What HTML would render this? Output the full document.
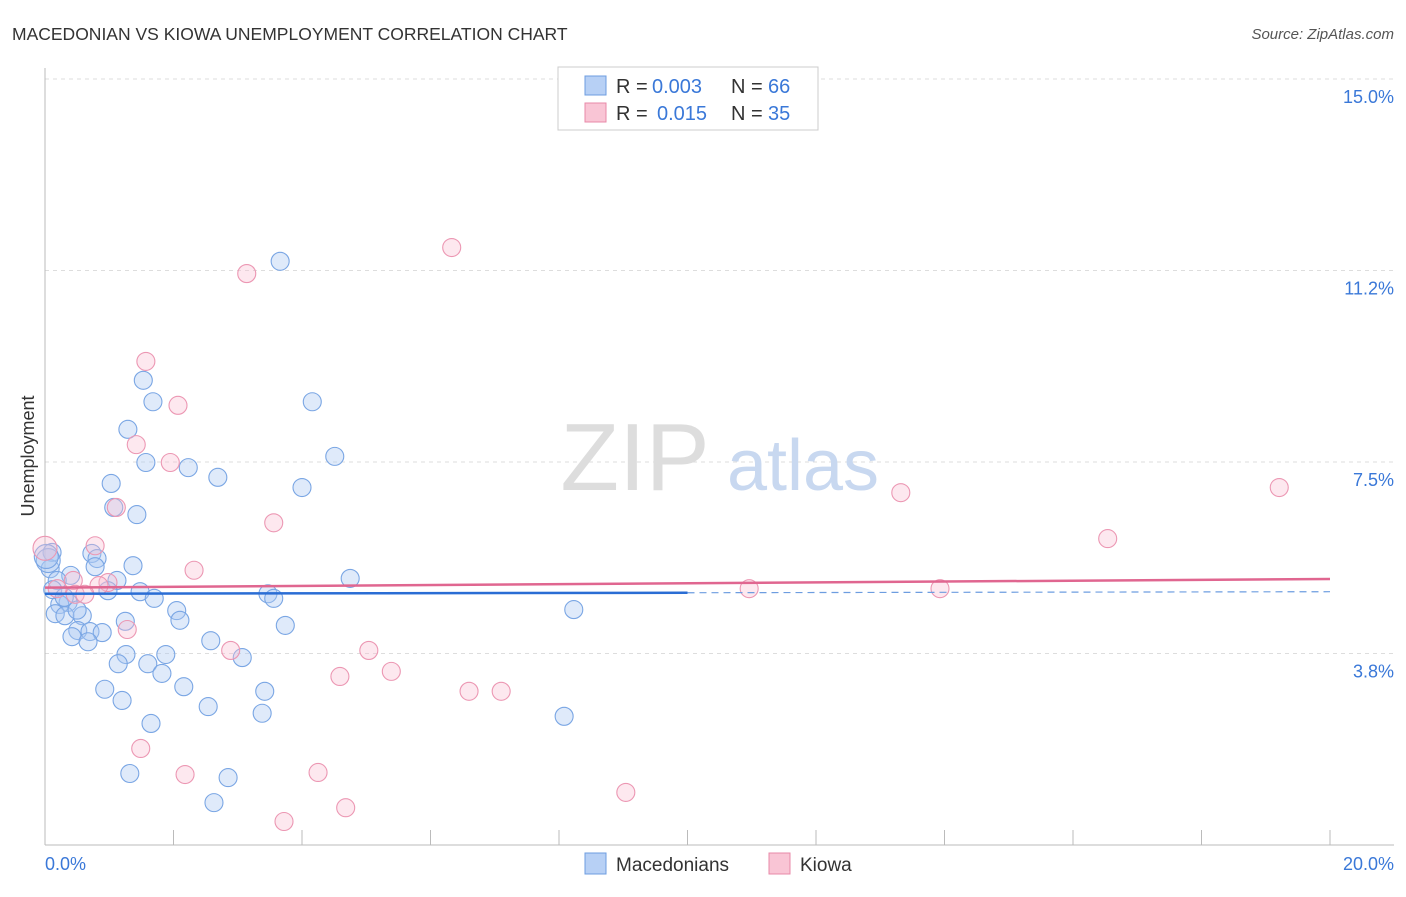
<!DOCTYPE html>
<html><head><meta charset="utf-8"><style>
body{margin:0;background:#fff;font-family:"Liberation Sans",sans-serif}
svg text{font-family:"Liberation Sans",sans-serif}
</style></head><body>
<svg width="1406" height="892">
<text x="12" y="40" font-size="17.5" fill="#333">MACEDONIAN VS KIOWA UNEMPLOYMENT CORRELATION CHART</text>
<text x="1394" y="39" font-size="15" fill="#555" font-style="italic" text-anchor="end">Source: ZipAtlas.com</text>
<g id="grid"></g>
<text x="635" y="490" font-size="96" fill="#ddd" font-family="Liberation Serif" text-anchor="middle">ZIP</text>
<text x="803" y="490" font-size="72" fill="#c8d8f0" text-anchor="middle">atlas</text>
<text transform="translate(34,456) rotate(-90)" font-size="18" fill="#333" text-anchor="middle">Unemployment</text>
<g id="pts"></g>
<g id="lines"></g>
<g>
<rect x="558" y="67" width="260" height="63" fill="#fff" stroke="#ccc"/>
<rect x="585" y="76" width="21" height="19" fill="#b7d0f5" stroke="#6d9de0"/>
<rect x="585" y="103" width="21" height="19" fill="#f9c5d5" stroke="#e889a8"/>
<text x="616" y="93" font-size="20" fill="#333">R =</text>
<text x="652" y="93" font-size="20" fill="#3a78d8">0.003</text>
<text x="731" y="93" font-size="20" fill="#333">N =</text>
<text x="768" y="93" font-size="20" fill="#3a78d8">66</text>
<text x="616" y="120" font-size="20" fill="#333">R =</text>
<text x="657" y="120" font-size="20" fill="#3a78d8">0.015</text>
<text x="731" y="120" font-size="20" fill="#333">N =</text>
<text x="768" y="120" font-size="20" fill="#3a78d8">35</text>
</g>
<g>
<rect x="585" y="853" width="21" height="21" fill="#b7d0f5" stroke="#6d9de0"/>
<text x="616" y="871" font-size="19" fill="#333">Macedonians</text>
<rect x="769" y="853" width="21" height="21" fill="#f9c5d5" stroke="#e889a8"/>
<text x="800" y="871" font-size="19" fill="#333">Kiowa</text>
</g>
</svg>
<script>
const yTicks=[3.75,7.5,11.25,15];
const yTickLabels=["3.8%","7.5%","11.2%","15.0%"];
const blueX=[3.66,1.53,1.68,4.16,1.29,4.51,1.57,2.23,2.69,1.03,4.00,1.07,1.43,0.11,0.73,0.81,0.78,1.37,0.08,0.40,1.12,0.19,4.75,0.98,1.48,3.47,3.56,1.70,0.36,0.23,8.23,2.05,0.16,0.31,0.58,2.10,1.25,3.74,0.51,0.70,0.89,0.42,0.67,2.58,1.88,1.26,3.07,1.14,1.60,1.82,2.16,0.93,3.42,1.20,2.54,3.38,8.08,1.65,1.32,2.85,2.63,0.05,0.02,0.12,0.3,0.5];
const blueY=[11.43,9.10,8.68,8.68,8.14,7.61,7.49,7.39,7.20,7.08,7.00,6.61,6.47,5.73,5.71,5.61,5.45,5.47,5.41,5.28,5.18,5.18,5.22,4.98,4.96,4.92,4.83,4.83,4.75,4.71,4.61,4.59,4.53,4.49,4.49,4.40,4.38,4.30,4.20,4.18,4.16,4.08,3.98,4.00,3.73,3.73,3.67,3.55,3.55,3.36,3.10,3.05,3.01,2.83,2.71,2.58,2.52,2.38,1.40,1.32,0.83,5.57,5.65,5.0,4.85,4.6];
const pinkX=[6.33,3.14,1.57,2.07,1.42,1.95,13.32,19.21,1.11,3.56,16.54,0.78,0.0,2.32,0.44,0.98,0.84,0.19,10.96,13.93,0.47,0.62,1.28,2.89,5.04,4.59,5.39,6.60,7.10,1.49,2.18,4.25,9.04,4.68,3.72];
const pinkY=[11.70,11.19,9.47,8.61,7.84,7.49,6.90,7.00,6.61,6.31,6.00,5.86,5.81,5.38,5.18,5.14,5.08,5.02,5.02,5.02,4.91,4.91,4.22,3.81,3.81,3.30,3.40,3.01,3.01,1.89,1.38,1.42,1.03,0.73,0.46];
const blueTrend=[4.92,4.96];
const pinkTrend=[5.04,5.21];
const X=v=>45+v/20*1285, Y=v=>845-v/15*766;
const NS="http://www.w3.org/2000/svg";
function mk(t,a,p){const e=document.createElementNS(NS,t);for(const k in a)e.setAttribute(k,a[k]);p.appendChild(e);return e;}
const g=document.getElementById('grid');
yTicks.forEach((t,i)=>{
 const l=mk('line',{x1:45,x2:1394,y1:Y(t),y2:Y(t),stroke:'#ddd','stroke-dasharray':'4,4'},g);
 
 
 const tx=mk('text',{x:1394,y:Y(t)+24,'font-size':18,fill:'#3a78d8','text-anchor':'end'},g);
 tx.textContent=yTickLabels[i];
 
 
});
const ax=mk('line',{x1:45,x2:45,y1:68,y2:845,stroke:'#bbb'},g);


const bx=mk('line',{x1:45,x2:1394,y1:845,y2:845,stroke:'#bbb'},g);


for(let i=0;i<=10;i++){const t=mk('line',{x1:X(i*2),x2:X(i*2),y1:830,y2:845,stroke:'#bbb'},g);
 
 }
[["0.0%",45,'start'],["20.0%",1394,'end']].forEach(a=>{const t=mk('text',{x:a[1],y:870,'font-size':18,fill:'#3a78d8','text-anchor':a[2]},g);t.textContent=a[0];
 
 });
const p=document.getElementById('pts');
blueX.forEach((x,i)=>{const c=mk('circle',{cx:X(x),cy:Y(blueY[i]),r:i>=61&&i<63?12:9,fill:'rgba(170,200,242,0.38)',stroke:'#7aa6e4','stroke-width':1.1},p);
 
 });
pinkX.forEach((x,i)=>{const c=mk('circle',{cx:X(x),cy:Y(pinkY[i]),r:i==12?12:9,fill:'rgba(248,190,210,0.35)',stroke:'#ec97b3','stroke-width':1.1},p);
 
 });
const L=document.getElementById('lines');
const b1=mk('line',{x1:X(0),y1:Y(blueTrend[0]),x2:X(10),y2:Y(blueTrend[0]+(blueTrend[1]-blueTrend[0])/2),stroke:'#2a6dd4','stroke-width':2.5},L);


const b2=mk('line',{x1:X(10),y1:Y(blueTrend[0]+(blueTrend[1]-blueTrend[0])/2),x2:X(20),y2:Y(blueTrend[1]),stroke:'#6d9de0','stroke-width':1.2,'stroke-dasharray':'7,5'},L);


const pl=mk('line',{x1:X(0),y1:Y(pinkTrend[0]),x2:X(20),y2:Y(pinkTrend[1]),stroke:'#e06690','stroke-width':2.5},L);


</script>
</body></html>
